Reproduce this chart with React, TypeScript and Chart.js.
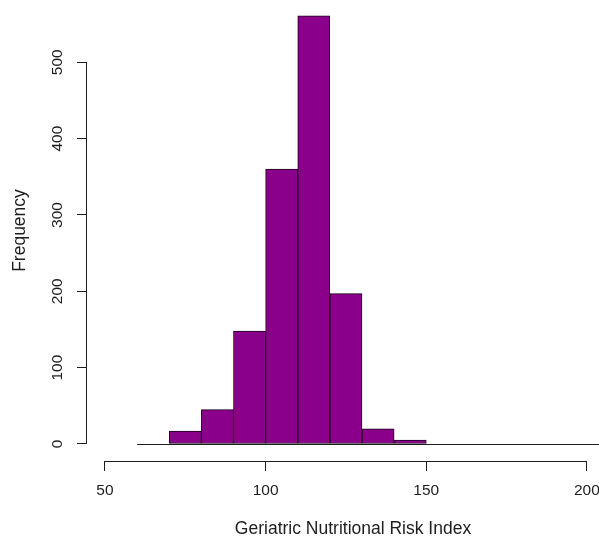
import React, { useEffect, useRef } from "react";
import { Chart, registerables } from "chart.js";

Chart.register(...registerables);

// Histogram bins (left edges) and counts
const binStarts = [60, 70, 80, 90, 100, 110, 120, 130, 140, 150, 160, 170, 180, 190, 200];
const binWidth = 10;
const frequencies = [0, 17, 45, 148, 360, 561, 197, 20, 5, 0, 0, 0, 0, 0, 0];

const xTickValues = [50, 100, 150, 200];
const yTickValues = [0, 100, 200, 300, 400, 500];

const xTitle = "Geriatric Nutritional Risk Index";
const yTitle = "Frequency";

const FONT = "'Liberation Sans', Arial, Helvetica, sans-serif";
const INK = "#1e1e1e";
const BAR_FILL = "#8B008B";
const BAR_EDGE = "#1a001a";

export default function App() {
  const ref = useRef<HTMLCanvasElement>(null);

  useEffect(() => {
    const prevMargin = document.body.style.margin;
    document.body.style.margin = "0";
    const canvas = ref.current;
    if (!canvas) return;

    const rAxesPlugin = {
      id: "rAxes",
      afterDatasetsDraw(chart: any) {
        const { ctx, chartArea, scales } = chart;
        const x = scales.x;
        const y = scales.y;
        ctx.save();
        ctx.strokeStyle = INK;
        ctx.lineWidth = 1;
        // zero baseline across all bins (zero-height bins), clipped to plot area
        ctx.save();
        ctx.beginPath();
        ctx.rect(chartArea.left, chartArea.top, chartArea.right - chartArea.left, chartArea.bottom - chartArea.top);
        ctx.clip();
        const y0 = Math.round(y.getPixelForValue(0)) + 0.5;
        ctx.beginPath();
        ctx.moveTo(x.getPixelForValue(binStarts[0]), y0);
        ctx.lineTo(x.getPixelForValue(binStarts[binStarts.length - 1] + binWidth), y0);
        ctx.stroke();
        ctx.restore();
        // x axis line (from first to last tick)
        const xb = Math.round(chartArea.bottom) + 0.5;
        ctx.beginPath();
        ctx.moveTo(x.getPixelForValue(xTickValues[0]), xb);
        ctx.lineTo(x.getPixelForValue(xTickValues[xTickValues.length - 1]), xb);
        ctx.stroke();
        // y axis line
        const yl = Math.round(chartArea.left) - 0.5;
        ctx.beginPath();
        ctx.moveTo(yl, y.getPixelForValue(yTickValues[0]));
        ctx.lineTo(yl, y.getPixelForValue(yTickValues[yTickValues.length - 1]));
        ctx.stroke();
        ctx.restore();
      },
    };

    const chart = new Chart(canvas, {
      type: "bar",
      data: {
        datasets: [
          {
            data: binStarts.map((s, i) => ({ x: s + binWidth / 2, y: frequencies[i] })),
            backgroundColor: BAR_FILL,
            borderColor: BAR_EDGE,
            borderWidth: 1,
            borderSkipped: false,
            barPercentage: 1,
            categoryPercentage: 1,
          },
        ],
      },
      options: {
        responsive: false,
        animation: false,
        layout: { padding: { left: 0, right: 11, top: 0, bottom: 0 } },
        plugins: {
          legend: { display: false },
          tooltip: { enabled: false },
        },
        scales: {
          x: {
            type: "linear",
            min: 44.4,
            max: 210,
            offset: false,
            afterBuildTicks: (s: any) => {
              s.ticks = xTickValues.map((v) => ({ value: v }));
            },
            afterFit: (s: any) => {
              s.height = 77;
              s.paddingLeft = 0;
              s.paddingRight = 0;
              s.paddingTop = 0;
              s.paddingBottom = 0;
            },
            border: { display: false },
            grid: {
              drawOnChartArea: false,
              drawTicks: true,
              tickLength: 10,
              color: INK,
              offset: false,
            },
            ticks: {
              padding: 10,
              autoSkip: false,
              maxRotation: 0,
              color: INK,
              font: { family: FONT, size: 15.5 },
              callback: (v: any) => String(v),
            },
            title: {
              display: true,
              text: xTitle,
              color: INK,
              font: { family: FONT, size: 17.5, lineHeight: 1 },
              padding: { top: 0, bottom: 0 },
            },
          },
          y: {
            type: "linear",
            min: -22.3,
            max: 581.6,
            afterBuildTicks: (s: any) => {
              s.ticks = yTickValues.map((v) => ({ value: v }));
            },
            afterFit: (s: any) => {
              s.width = 87;
              s.paddingTop = 0;
              s.paddingBottom = 0;
              s.paddingLeft = 0;
              s.paddingRight = 0;
            },
            border: { display: false },
            grid: {
              drawOnChartArea: false,
              drawTicks: true,
              tickLength: 10,
              color: INK,
            },
            ticks: {
              minRotation: 90,
              maxRotation: 90,
              crossAlign: "center",
              padding: 6,
              autoSkip: false,
              color: INK,
              font: { family: FONT, size: 15.5 },
              callback: (v: any) => String(v),
            },
            title: {
              display: true,
              text: yTitle,
              color: INK,
              font: { family: FONT, size: 17.5, lineHeight: 1 },
              padding: { top: 11, bottom: 0 },
            },
          },
        },
      },
      plugins: [rAxesPlugin],
    } as any);

    return () => {
      chart.destroy();
      document.body.style.margin = prevMargin;
    };
  }, []);

  return (
    <div style={{ width: 599, height: 538, overflow: "hidden", background: "#ffffff" }}>
      <canvas ref={ref} width={630} height={538} style={{ display: "block" }} />
    </div>
  );
}
